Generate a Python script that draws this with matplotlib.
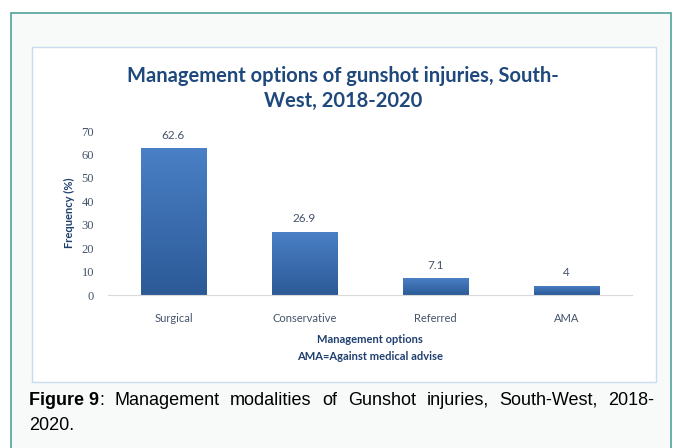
import numpy as np
import matplotlib.pyplot as plt
from matplotlib.patches import Rectangle
from matplotlib.colors import LinearSegmentedColormap

# data
categories = ["Surgical", "Conservative", "Referred", "AMA"]
values = [62.6, 26.9, 7.1, 4]
value_labels = ["62.6", "26.9", "7.1", "4"]
yticks = [0, 10, 20, 30, 40, 50, 60, 70]

W, H = 677, 448
fig = plt.figure(figsize=(W / 100, H / 100), dpi=100)
fig.patch.set_facecolor("white")


# outer frame and inner chart panel (in pixel space)
def px_rect(x0, y0, x1, y1, **kw):
    return Rectangle((x0 / W, 1 - y1 / H), (x1 - x0) / W, (y1 - y0) / H,
                     transform=fig.transFigure, zorder=-5, **kw)


fig.patches.append(px_rect(11, 13, 671, 460, facecolor="#f8fafa",
                           edgecolor="#5ea9a2", lw=1.3))
fig.patches.append(px_rect(32, 47, 656, 382, facecolor="white",
                           edgecolor="#c9dbee", lw=1.0))

ax = fig.add_axes([108 / W, 1 - 295 / H, (632 - 108) / W, (295 - 131) / H])
ax.set_facecolor("none")

x = np.arange(len(categories))
bars = ax.bar(x, values, width=0.5, color="#3a6db2", zorder=2)

# vertical gradient on each bar
grad = np.linspace(0, 1, 256).reshape(-1, 1)
cmap = LinearSegmentedColormap.from_list("bar", ["#2c5a97", "#4a80c6"])
for b in bars:
    im = ax.imshow(grad, cmap=cmap, aspect="auto", origin="lower",
                   extent=[b.get_x(), b.get_x() + b.get_width(), 0, b.get_height()],
                   zorder=3)
    im.set_clip_path(b)

txt_col = "#44546a"
ax.set_xlim(-0.5, len(categories) - 0.5)
ax.set_ylim(0, 70)
ax.set_yticks(yticks)
ax.set_xticks(x)
ax.set_xticklabels(categories, fontsize=8, color=txt_col, family="Lato")
ax.tick_params(axis="x", length=0, pad=13)
ax.tick_params(axis="y", length=0, pad=10, labelsize=9, labelcolor=txt_col)
for lab in ax.get_yticklabels():
    lab.set_family("Liberation Serif")

for s in ["top", "right", "left"]:
    ax.spines[s].set_visible(False)
ax.spines["bottom"].set_color("#d9d9d9")
ax.spines["bottom"].set_zorder(4)

for xi, v, t in zip(x, values, value_labels):
    ax.text(xi, v + 3.2, t, ha="center", va="bottom", fontsize=8.5,
            color=txt_col, family="Lato")

ax.set_ylabel("Frequency (%)", fontsize=8, fontweight="bold",
              color="#1f3f6e", family="Lato", labelpad=5)

fig.text(370 / W, 1 - 339 / H, "Management options", ha="center", va="center",
         fontsize=8, fontweight="bold", color="#1f3f6e", family="Lato")
fig.text(370 / W, 1 - 356 / H, "AMA=Against medical advise", ha="center",
         va="center", fontsize=8, fontweight="bold", color="#1f3f6e", family="Lato")

fig.text(343 / W, 1 - 76 / H, "Management options of gunshot injuries, South-",
         ha="center", va="center", fontsize=14.5, fontweight="bold",
         color="#1f497d", family="Lato")
fig.text(343 / W, 1 - 101 / H, "West, 2018-2020", ha="center", va="center",
         fontsize=14.5, fontweight="bold", color="#1f497d", family="Lato")

# justified caption line
cap_words = [("Figure 9", "bold"), (":", "normal"), ("Management", "normal"),
             ("modalities", "normal"), ("of", "normal"), ("Gunshot", "normal"),
             ("injuries,", "normal"), ("South-West,", "normal"), ("2018-", "normal")]
renderer = fig.canvas.get_renderer()
texts = []
for w, wt in cap_words:
    t = fig.text(0, 1 - 400 / H, w, ha="left", va="center", fontsize=13,
                 fontweight=wt, color="black", family="Liberation Sans")
    texts.append(t)
widths = [t.get_window_extent(renderer).width for t in texts]
x0, x1 = 29, 654
n_gaps = len(texts) - 2  # no gap between "Figure 9" and ":"
gap = (x1 - x0 - sum(widths)) / n_gaps
xpos = x0
for i, (t, wd) in enumerate(zip(texts, widths)):
    t.set_x(xpos / W)
    xpos += wd
    if i != 0:
        xpos += gap
fig.text(29 / W, 1 - 425 / H, "2020.", ha="left", va="center", fontsize=13,
         color="black", family="Liberation Sans")

fig.savefig("out.png", dpi=100)
